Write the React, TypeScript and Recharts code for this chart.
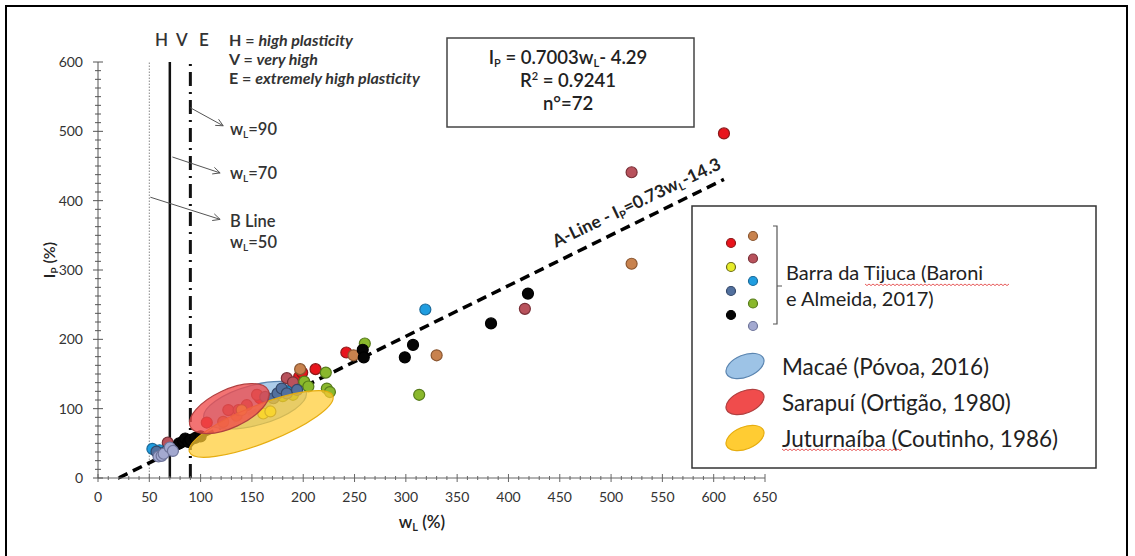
import React from "react";
import { ComposedChart, ReferenceLine, Scatter, XAxis, YAxis } from "recharts";

const WIDTH = 1135;
const HEIGHT = 556;
const PLOT = { left: 98, top: 62, right: 765, bottom: 478 };
const Y_AXIS_W = 50;
const X_AXIS_H = 30;
const FONT = "Lato, 'Open Sans', sans-serif";

// axis ticks
const X_MAJOR = [0, 50, 100, 150, 200, 250, 300, 350, 400, 450, 500, 550, 600, 650];
const Y_MAJOR = [0, 100, 200, 300, 400, 500, 600];
const X_TICKS = Array.from({ length: 66 }, (_, i) => i * 10);
const Y_TICKS = Array.from({ length: 49 }, (_, i) => i * 12.5);

// Barra da Tijuca samples, [wL, IP]
type Pt = [number, number];
const RED_PTS: Pt[] = [[106, 80], [158, 115], [196, 146], [199, 152], [212, 157], [242, 181], [610, 497]];
const BROWN_PTS: Pt[] = [[122, 81], [135, 90], [197, 157], [249, 177], [330, 177], [520, 309]];
const ROSY_PTS: Pt[] = [[68, 51], [127, 98], [137, 98], [145, 105], [155, 120], [184, 144], [190, 138], [416, 244], [520, 441]];
const CYAN_PTS: Pt[] = [[53, 42], [60, 40], [184, 125], [319, 243]];
const GREEN_PTS: Pt[] = [[180, 118], [190, 120], [201, 139], [205, 132], [222, 152], [223, 129], [226, 124], [260, 194], [313, 120]];
const SLATE_PTS: Pt[] = [[57, 38], [66, 38], [163, 117], [171, 115], [175, 122], [179, 129], [184, 122], [194, 127]];
const BLACK_PTS: Pt[] = [[79, 50], [83, 53], [85, 57], [88, 52], [90, 55], [95, 58], [100, 60], [258, 185], [259, 174], [299, 174], [307, 192], [383, 223], [419, 266]];
const LAVENDER_PTS: Pt[] = [[59, 31], [62, 32], [64, 35], [70, 44], [73, 39]];
const YELLOW_PTS: Pt[] = [[140, 98], [161, 93], [168, 96]];

// other studies, drawn as zones: centre [wL, IP]
const ZONE_NAMES = ["Macaé (Póvoa, 2016)", "Sarapuí (Ortigão, 1980)", "Juturnaíba (Coutinho, 1986)"];
const ZONE_CENTRES: Pt[] = [[153, 105], [128, 100], [159, 78]];

// classification lines
const B_LINE_WL = 50;
const H_LINE_WL = 70;
const V_LINE_WL = 90;
const A_LINE_WL = [20, 610];
const aLineIP = (wL: number) => 0.73 * (wL - 20);

// arrows pointing from the lines to their labels
const ARROWS: [Pt, Pt][] = [
  [[90, 534], [122, 508]],
  [[72.5, 463], [119, 440]],
  [[51, 405], [119, 373]],
];

const DOT_STYLE: Record<string, { fill: string; stroke: string }> = {
  red: { fill: "#e8141c", stroke: "#8b1a1a" },
  brown: { fill: "#c8824e", stroke: "#8a5630" },
  rosy: { fill: "#b8525c", stroke: "#7a3038" },
  cyan: { fill: "#1f9de0", stroke: "#1a6a9a" },
  green: { fill: "#8ab82c", stroke: "#557a1a" },
  slate: { fill: "#52709e", stroke: "#34486a" },
  black: { fill: "#050505", stroke: "#000000" },
  lavender: { fill: "#a3a9d0", stroke: "#6e749a" },
  yellow: { fill: "#e6ec2a", stroke: "#6b6b1a" },
};

const SERIES: { key: string; pts: Pt[] }[] = [
  { key: "red", pts: RED_PTS },
  { key: "brown", pts: BROWN_PTS },
  { key: "rosy", pts: ROSY_PTS },
  { key: "cyan", pts: CYAN_PTS },
  { key: "green", pts: GREEN_PTS },
  { key: "slate", pts: SLATE_PTS },
  { key: "black", pts: BLACK_PTS },
  { key: "lavender", pts: LAVENDER_PTS },
  { key: "yellow", pts: YELLOW_PTS },
];

const ZONE_STYLE = [
  { fill: "#9dc3e6", stroke: "#5b85b0", opacity: 0.85, rx: 53, ry: 20, angle: -15 },
  { fill: "#f04c4c", stroke: "#b04040", opacity: 0.78, rx: 43, ry: 19, angle: -25 },
  { fill: "#ffcc33", stroke: "#e6ad10", opacity: 0.72, rx: 77, ry: 19, angle: -21.5 },
];

const toData = (pts: Pt[]) => pts.map(([wL, IP]) => ({ wL, IP }));

function XTick({ x = 0, y = 0, payload }: any) {
  const v = payload?.value ?? 0;
  const major = X_MAJOR.includes(v);
  const h = major ? 4 : 2;
  return (
    <g>
      <line x1={x} x2={x} y1={y - h} y2={y + h} stroke="#666" strokeWidth={1} />
      {major ? (
        <text x={x} y={y + 24} textAnchor="middle" fontSize={14} fill="#333" fontFamily={FONT}>
          {v}
        </text>
      ) : null}
    </g>
  );
}

function YTick({ x = 0, y = 0, payload }: any) {
  const v = payload?.value ?? 0;
  const major = Y_MAJOR.includes(v);
  const h = major ? 5 : 3;
  return (
    <g>
      <line x1={x - h} x2={x + h} y1={y} y2={y} stroke="#555" strokeWidth={1} />
      {major ? (
        <text x={x - 15} y={y + 5} textAnchor="end" fontSize={14} fill="#333" fontFamily={FONT}>
          {v}
        </text>
      ) : null}
    </g>
  );
}

function ArrowShape(props: any) {
  const { x1, y1, x2, y2 } = props;
  const a = Math.atan2(y2 - y1, x2 - x1);
  const len = 8;
  const p1 = [x2 - len * Math.cos(a - 0.45), y2 - len * Math.sin(a - 0.45)];
  const p2 = [x2 - len * Math.cos(a + 0.45), y2 - len * Math.sin(a + 0.45)];
  return (
    <g stroke="#555" strokeWidth={1} fill="none">
      <line x1={x1} y1={y1} x2={x2} y2={y2} />
      <polyline points={`${p1[0]},${p1[1]} ${x2},${y2} ${p2[0]},${p2[1]}`} />
    </g>
  );
}

const makeDot = (key: string) => (props: any) =>
  <circle cx={props.cx} cy={props.cy} r={5.5} fill={DOT_STYLE[key].fill} stroke={DOT_STYLE[key].stroke} strokeWidth={1.2} />;

const makeZone = (i: number) => (props: any) => {
  const s = ZONE_STYLE[i];
  return (
    <ellipse
      cx={props.cx}
      cy={props.cy}
      rx={s.rx}
      ry={s.ry}
      transform={`rotate(${s.angle} ${props.cx} ${props.cy})`}
      fill={s.fill}
      fillOpacity={s.opacity}
      stroke={s.stroke}
      strokeWidth={1.2}
    />
  );
};

function zig(x1: number, x2: number, y: number) {
  let d = `M${x1},${y}`;
  for (let x = x1, k = 0; x < x2; x += 2, k++) d += ` L${x + 2},${y + (k % 2 ? 0 : 1.6)}`;
  return d;
}

function Overlay() {
  const t = { fontFamily: FONT, fill: "#222" } as const;
  return (
    <svg width={WIDTH} height={HEIGHT} style={{ position: "absolute", left: 0, top: 0, pointerEvents: "none" }}>
      {/* outer frame */}
      <rect x={6} y={6} width={1121} height={570} fill="none" stroke="#000" strokeWidth={2} />

      {/* plasticity letters */}
      <g {...t} fontSize={17} fontWeight={600} fill="#333">
        <text x={155} y={46}>H</text>
        <text x={176} y={46}>V</text>
        <text x={199} y={46}>E</text>
      </g>
      <g {...t} fontSize={16} fontWeight={700} fill="#333">
        <text x={229} y={46}>H = <tspan fontStyle="italic">high plasticity</tspan></text>
        <text x={229} y={65}>V = <tspan fontStyle="italic">very high</tspan></text>
        <text x={229} y={84}>E = <tspan fontStyle="italic">extremely high plasticity</tspan></text>
      </g>

      {/* arrow labels */}
      <g {...t} fontSize={16.5} fontWeight={600} fill="#333">
        <text x={230} y={135}>w<tspan fontSize={10} dy={3}>L</tspan><tspan dy={-3}>=90</tspan></text>
        <text x={230} y={179}>w<tspan fontSize={10} dy={3}>L</tspan><tspan dy={-3}>=70</tspan></text>
        <text x={230} y={227}>B Line</text>
        <text x={230} y={248}>w<tspan fontSize={10} dy={3}>L</tspan><tspan dy={-3}>=50</tspan></text>
      </g>

      {/* regression box */}
      <rect x={447} y={38} width={247} height={89} fill="#fff" stroke="#444" strokeWidth={1.5} />
      <g {...t} fontSize={18.5} fontWeight={600} textAnchor="middle">
        <text x={568} y={64}>I<tspan fontSize={11} dy={3}>P</tspan><tspan dy={-3}> = 0.7003w</tspan><tspan fontSize={11} dy={3}>L</tspan><tspan dy={-3}>- 4.29</tspan></text>
        <text x={568} y={87}>R<tspan fontSize={11} dy={-7}>2</tspan><tspan dy={7}> = 0.9241</tspan></text>
        <text x={568} y={110}>n°=72</text>
      </g>

      {/* A-line label */}
      <text {...t} x={639} y={208} fontSize={17.5} fontWeight={700} textAnchor="middle" transform="rotate(-25.5 639 208)">
        A-Line - I<tspan fontSize={11} dy={3}>P</tspan><tspan dy={-3}>=0.73w</tspan><tspan fontSize={11} dy={3}>L</tspan><tspan dy={-3}>-14.3</tspan>
      </text>

      {/* axis titles */}
      <text {...t} x={422} y={528} fontSize={17} fontWeight={600} textAnchor="middle">
        w<tspan fontSize={11} dy={3}>L</tspan><tspan dy={-3}> (%)</tspan>
      </text>
      <text {...t} x={55} y={260} fontSize={16} fontWeight={600} textAnchor="middle" transform="rotate(-90 55 260)">
        I<tspan fontSize={10} dy={3}>P</tspan><tspan dy={-3}> (%)</tspan>
      </text>

      {/* legend */}
      <rect x={692} y={206} width={404} height={262} fill="#fff" stroke="#333" strokeWidth={1.5} />
      {(["red", "yellow", "slate", "black"] as const).map((k, i) => (
        <circle key={k} cx={731} cy={243 + i * 24} r={4.5} fill={DOT_STYLE[k].fill} stroke={DOT_STYLE[k].stroke} strokeWidth={1.2} />
      ))}
      {(["brown", "rosy", "cyan", "green", "lavender"] as const).map((k, i) => (
        <circle key={k} cx={753} cy={236 + i * 22.5} r={4.5} fill={DOT_STYLE[k].fill} stroke={DOT_STYLE[k].stroke} strokeWidth={1.2} />
      ))}
      <path d="M773,226 L777,226 L777,324 L773,324 M777,286 L782,286" stroke="#555" strokeWidth={1.2} fill="none" />
      <g {...t} fontSize={20}>
        <text x={786} y={280}>Barra da Tijuca (Baroni</text>
        <text x={786} y={306}>e Almeida, 2017)</text>
      </g>
      <g {...t} fontSize={22.5}>
        {ZONE_NAMES.map((n, i) => (
          <text key={n} x={782} y={375 + i * 36}>{n}</text>
        ))}
      </g>
      <path d={zig(865, 1008, 284)} stroke="#e03030" strokeWidth={0.8} fill="none" />
      <path d={zig(782, 902, 449)} stroke="#e03030" strokeWidth={0.8} fill="none" />
      {ZONE_STYLE.map((s, i) => (
        <ellipse
          key={i}
          cx={745}
          cy={366 + i * 36}
          rx={20}
          ry={11}
          transform={`rotate(-22 745 ${366 + i * 36})`}
          fill={s.fill}
          stroke={s.stroke}
          strokeWidth={1.2}
        />
      ))}
    </svg>
  );
}

export default function App() {
  return (
    <div style={{ position: "absolute", left: 0, top: 0, width: WIDTH, height: HEIGHT, background: "#fff" }}>
      <ComposedChart
        width={WIDTH}
        height={HEIGHT}
        margin={{ top: PLOT.top, right: WIDTH - PLOT.right, bottom: HEIGHT - PLOT.bottom - X_AXIS_H, left: PLOT.left - Y_AXIS_W }}
      >
        <XAxis
          type="number"
          dataKey="wL"
          domain={[0, 650]}
          ticks={X_TICKS}
          interval={0}
          tickSize={0}
          tickMargin={0}
          tickLine={false}
          tick={<XTick />}
          axisLine={{ stroke: "#666" }}
          height={X_AXIS_H}
          allowDataOverflow
        />
        <YAxis
          type="number"
          dataKey="IP"
          domain={[0, 600]}
          ticks={Y_TICKS}
          interval={0}
          tickSize={0}
          tickMargin={0}
          tickLine={false}
          tick={<YTick />}
          axisLine={{ stroke: "#555" }}
          width={Y_AXIS_W}
          allowDataOverflow
        />
        <ReferenceLine x={B_LINE_WL} stroke="#888" strokeWidth={1} strokeDasharray="1.5 1.5" />
        <ReferenceLine x={H_LINE_WL} stroke="#111" strokeWidth={2.5} />
        <ReferenceLine x={V_LINE_WL} stroke="#111" strokeWidth={3} strokeDasharray="14 6 2 6" />
        <ReferenceLine
          segment={[
            { x: A_LINE_WL[0], y: aLineIP(A_LINE_WL[0]) },
            { x: A_LINE_WL[1], y: aLineIP(A_LINE_WL[1]) },
          ]}
          stroke="#000"
          strokeWidth={3.5}
          strokeDasharray="10 6"
        />
        {ARROWS.map(([a, b], i) => (
          <ReferenceLine key={`arr${i}`} segment={[{ x: a[0], y: a[1] }, { x: b[0], y: b[1] }]} shape={ArrowShape} />
        ))}
        <Scatter data={toData([ZONE_CENTRES[0]])} shape={makeZone(0)} isAnimationActive={false} />
        {SERIES.map((s) => (
          <Scatter key={s.key} data={toData(s.pts)} shape={makeDot(s.key)} isAnimationActive={false} />
        ))}
        <Scatter data={toData([ZONE_CENTRES[2]])} shape={makeZone(2)} isAnimationActive={false} />
        <Scatter data={toData([ZONE_CENTRES[1]])} shape={makeZone(1)} isAnimationActive={false} />
      </ComposedChart>
      <Overlay />
    </div>
  );
}
